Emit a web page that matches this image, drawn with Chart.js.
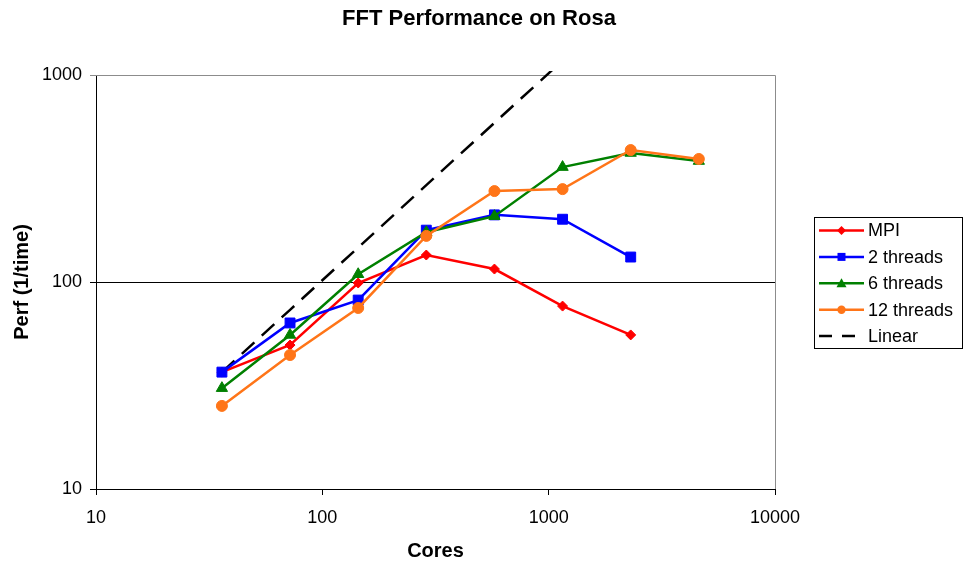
<!DOCTYPE html>
<html>
<head>
<meta charset="utf-8">
<script src="https://cdn.jsdelivr.net/npm/chart.js@4"></script>
<style>
html,body{margin:0;padding:0;background:#fff;}
#wrap{width:964px;height:565px;position:relative;}
</style>
</head>
<body>
<div id="wrap"><canvas id="c" width="964" height="565"></canvas></div>
<script>
const cores = [36, 72, 144, 288, 576, 1152, 2304, 4608];
const mpi = [36.7, 49.6, 98.9, 135, 115.5, 76.5, 55.5, null];
const threads2 = [36.7, 63.4, 81.8, 178, 211, 201, 132, null];
const threads6 = [30.7, 55.5, 109, 174, 208, 359, 420, 384];
const threads12 = [25.2, 44.4, 74.9, 167, 275, 281, 434, 393];
const linear = [36.7, 73.4, 146.8, 293.6, 587.2, 1174.4, null, null];
const xTicks = [10, 100, 1000, 10000];
const yTicks = [10, 100, 1000];
const seriesNames = ['MPI', '2 threads', '6 threads', '12 threads', 'Linear'];
const chartTitle = 'FFT Performance on Rosa';

const FONT = '"Liberation Sans", Arial, sans-serif';

function pts(arr){ return cores.map((c,i)=>({x:c,y:arr[i]})).filter(p=>p.y!==null); }

const styles = [
  {color:'#FF0000', point:'rectRot', radius:5},
  {color:'#0000FF', point:'rect', radius:7},
  {color:'#008000', point:'triangle', radius:6.5},
  {color:'#FF7518', point:'circle', radius:5.5},
  {color:'#000000', point:false, radius:0, dash:[17,10]}
];
const dataArrays = [mpi, threads2, threads6, threads12, linear];

const datasets = dataArrays.map((arr,i)=>({
  label: seriesNames[i],
  data: pts(arr),
  borderColor: styles[i].color,
  backgroundColor: styles[i].color,
  borderWidth: 2.5,
  borderDash: styles[i].dash || [],
  pointStyle: styles[i].point,
  pointRadius: styles[i].radius,
  pointBorderWidth: 1,
  pointBorderColor: styles[i].color,
  pointBackgroundColor: styles[i].color,
  tension: 0,
  clip: {left: 0, top: 4, right: 0, bottom: 0},
  order: i===4 ? 10 : 4-i
}));

const framePlugin = {
  id:'frame',
  beforeDatasetsDraw(chart){
    const a = chart.chartArea, ctx = chart.ctx;
    ctx.save();
    ctx.strokeStyle = '#8c8c8c';
    ctx.lineWidth = 1;
    ctx.beginPath();
    ctx.moveTo(a.left, a.top+0.5); ctx.lineTo(a.right+0.5, a.top+0.5); ctx.lineTo(a.right+0.5, a.bottom);
    ctx.stroke();
    ctx.restore();
  },
  afterDraw(chart){
    const ctx = chart.ctx;
    ctx.save();
    // title
    ctx.fillStyle = '#000';
    ctx.font = 'bold 22px ' + FONT;
    ctx.textAlign = 'center';
    ctx.textBaseline = 'middle';
    ctx.fillText(chartTitle, 479, 19);
    // legend box
    const bx = 814.5, by = 217.5, bw = 148, bh = 131;
    ctx.strokeStyle = '#000'; ctx.lineWidth = 1;
    ctx.strokeRect(bx, by, bw, bh);
    ctx.font = '18px ' + FONT;
    ctx.textAlign = 'left';
    ctx.textBaseline = 'middle';
    const spacing = 26.4;
    for(let i=0;i<5;i++){
      const y = 230.5 + i*spacing;
      const st = styles[i];
      ctx.strokeStyle = st.color; ctx.lineWidth = 2.5;
      ctx.setLineDash(st.dash ? [13,10] : []);
      ctx.beginPath(); ctx.moveTo(819, y); ctx.lineTo(864, y); ctx.stroke();
      ctx.setLineDash([]);
      if(st.point){
        ctx.fillStyle = st.color;
        ctx.beginPath();
        if(st.point==='circle'){ ctx.arc(841.5,y,4.2,0,Math.PI*2); ctx.fill(); }
        else if(st.point==='rect'){ ctx.fillRect(841.5-4,y-4,8,8); }
        else if(st.point==='triangle'){ ctx.moveTo(841.5,y-5); ctx.lineTo(846.5,y+4); ctx.lineTo(836.5,y+4); ctx.closePath(); ctx.fill(); }
        else { ctx.moveTo(841.5,y-4.5); ctx.lineTo(846,y); ctx.lineTo(841.5,y+4.5); ctx.lineTo(837,y); ctx.closePath(); ctx.fill(); }
      }
      ctx.fillStyle = '#000';
      ctx.fillText(seriesNames[i], 868, y+1);
    }
    ctx.restore();
  }
};

new Chart(document.getElementById('c'), {
  type: 'line',
  data: { datasets },
  options: {
    responsive: false,
    animation: false,
    devicePixelRatio: 1,
    layout: { padding: { left: 0, right: 189, top: 75, bottom: 0 } },
    plugins: {
      legend: { display: false },
      tooltip: { enabled: false },
      title: { display: false }
    },
    scales: {
      x: {
        type: 'logarithmic',
        min: 10, max: 10000,
        afterBuildTicks(s){ s.ticks = xTicks.map(v=>({value:v})); },
        afterFit(s){ s.height = 76; },
        ticks: {
          color: '#000', font: { family: FONT, size: 18 }, padding: 12,
          maxRotation: 0, autoSkip: false,
          callback: (v)=>String(v)
        },
        grid: { drawOnChartArea: false, drawTicks: true, tickLength: 6, color: '#000', lineWidth: 1 },
        border: { display: true, color: '#000', width: 1 },
        title: { display: true, text: 'Cores', color: '#000', font: { family: FONT, size: 20, weight: 'bold' }, padding: { top: 0, bottom: 2 } }
      },
      y: {
        type: 'logarithmic',
        min: 10, max: 1000,
        afterBuildTicks(s){ s.ticks = yTicks.map(v=>({value:v})); },
        afterFit(s){ s.width = 96; },
        ticks: {
          color: '#000', font: { family: FONT, size: 18 }, padding: 8,
          autoSkip: false,
          callback: (v)=>String(v)
        },
        grid: {
          drawOnChartArea: true, drawTicks: true, tickLength: 6,
          color: (c)=> (c.tick && c.tick.value===1000) ? '#8c8c8c' : '#000',
          lineWidth: 1
        },
        border: { display: true, color: '#000', width: 1 },
        title: { display: true, text: 'Perf (1/time)', color: '#000', font: { family: FONT, size: 20, weight: 'bold' }, padding: { top: 10, bottom: 0 } }
      }
    }
  },
  plugins: [framePlugin]
});
</script>
</body>
</html>
